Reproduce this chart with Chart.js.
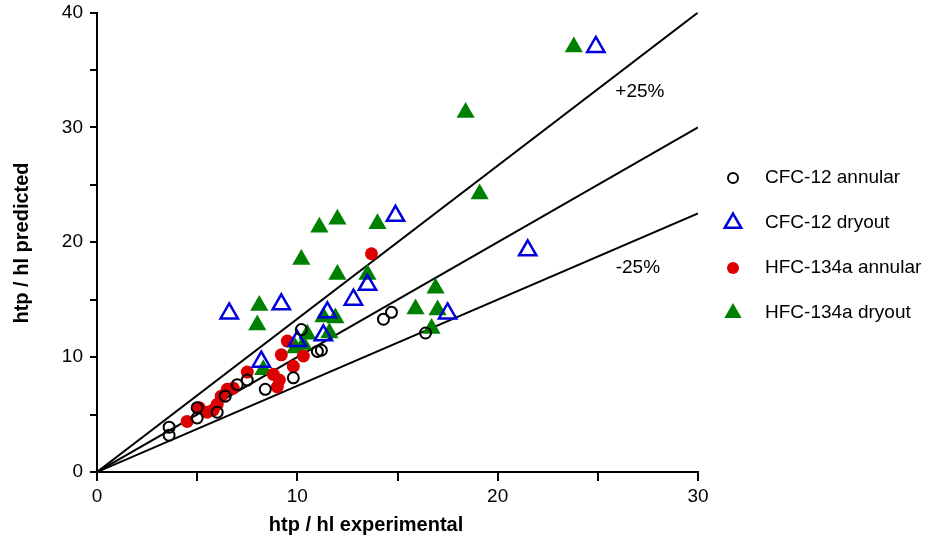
<!DOCTYPE html>
<html>
<head>
  <title>htp / hl</title>
  <script src="https://cdn.jsdelivr.net/npm/chart.js@4.4.1/dist/chart.umd.min.js"></script>
  <style>
    body { margin: 0; background: #fff; }
  </style>
</head>
<body>
  <canvas id="myChart" width="942" height="542"></canvas>

  <script>
    // [experimental, predicted]
    var cfcAnnular = [[3.6,3.9],[3.6,3.2],[5.0,4.7],[5.0,5.6],[6.0,5.2],[6.4,6.6],[7.0,7.6],[7.5,8.0],
      [8.4,7.2],[9.8,8.2],[10.2,12.4],[11.0,10.5],[11.2,10.6],[14.3,13.3],[14.7,13.9],[16.4,12.1]];
    var cfcDryout = [[24.9,37.0],[21.5,19.3],[14.9,22.3],[13.5,16.3],[12.8,15.0],[17.5,13.8],[6.6,13.8],
      [9.2,14.6],[11.5,13.9],[11.3,11.9],[10.0,11.4],[8.2,9.6]];
    var hfcAnnular = [[13.7,19.0],[9.5,11.4],[9.2,10.2],[10.3,10.1],[9.8,9.2],[7.5,8.7],[8.8,8.5],[9.1,8.0],
      [9.0,7.4],[6.8,7.3],[6.5,7.2],[6.2,6.6],[6.0,5.9],[5.8,5.4],[5.1,5.6],[5.5,5.2],[4.5,4.4]];
    var hfcDryout = [[8.3,8.9],[9.9,10.8],[10.3,11.1],[10.5,12.0],[11.6,12.1],[11.3,13.5],[11.9,13.4],
      [8.0,12.8],[8.1,14.5],[10.2,18.5],[11.1,21.3],[12.0,22.0],[14.0,21.6],[12.0,17.2],[13.5,17.2],
      [16.9,16.0],[15.9,14.2],[17.0,14.1],[16.7,12.5],[18.4,31.3],[19.1,24.2],[23.8,37.0]];
    // reference lines: predicted = factor * experimental
    var lineFactors = [4 / 3, 1, 0.75];
    var lineEndX = 30;

    function pts(arr) {
      return arr.map(function(p) { return { x: p[0], y: p[1] }; });
    }

    var green = '#008000', blue = '#0000dd', red = '#dd0000';
    var font = '"Liberation Sans", Arial, sans-serif';

    var datasets = [
      { label: 'CFC-12 annular', data: pts(cfcAnnular), pointStyle: 'circle', pointRadius: 5.5,
        borderColor: '#000', backgroundColor: 'rgba(0,0,0,0)', borderWidth: 2, order: 0 },
      { label: 'CFC-12 dryout', data: pts(cfcDryout), pointStyle: 'triangle', pointRadius: 10,
        borderColor: blue, backgroundColor: 'rgba(0,0,0,0)', borderWidth: 2.5, order: 0 },
      { label: 'HFC-134a annular', data: pts(hfcAnnular), pointStyle: 'circle', pointRadius: 6.5,
        borderColor: red, backgroundColor: red, borderWidth: 0, order: 0 },
      { label: 'HFC-134a dryout', data: pts(hfcDryout), pointStyle: 'triangle', pointRadius: 10.5,
        borderColor: green, backgroundColor: green, borderWidth: 0, order: 0 }
    ];
    lineFactors.forEach(function(f) {
      datasets.push({
        type: 'line', data: [{ x: 0, y: 0 }, { x: lineEndX, y: lineEndX * f }],
        borderColor: '#000', borderWidth: 2, pointRadius: 0, fill: false, order: 1
      });
    });

    var legendRows = [178, 223, 268, 313];
    var legendSizes = [5, 9.5, 6, 10];

    var extras = {
      id: 'extras',
      afterDatasetsDraw: function(chart) {
        var c = chart.ctx, xs = chart.scales.x, ys = chart.scales.y;
        c.save();
        c.fillStyle = '#000';
        c.font = '19px ' + font;
        c.textAlign = 'center';
        c.textBaseline = 'middle';
        c.fillText('+25%', xs.getPixelForValue(27.1), ys.getPixelForValue(33.1));
        c.fillText('-25%', xs.getPixelForValue(27.0), ys.getPixelForValue(17.8));

        // legend
        c.textAlign = 'left';
        for (var i = 0; i < 4; i++) {
          var ds = chart.data.datasets[i], y = legendRows[i];
          c.fillStyle = '#000';
          c.fillText(ds.label, 765, y);
          c.lineWidth = ds.borderWidth || 1;
          c.strokeStyle = ds.borderColor;
          c.fillStyle = ds.backgroundColor;
          Chart.helpers.drawPoint(c, { pointStyle: ds.pointStyle, radius: legendSizes[i],
            borderWidth: ds.borderWidth, rotation: 0 }, 733, y);
        }

        // axis titles
        c.fillStyle = '#000';
        c.font = 'bold 20px ' + font;
        c.textAlign = 'center';
        c.fillText('htp / hl experimental', 366, 525);
        c.translate(22, 243);
        c.rotate(-Math.PI / 2);
        c.fillText('htp / hl predicted', 0, 0);
        c.restore();
      }
    };

    var ctx = document.getElementById('myChart').getContext('2d');
    var chart = new Chart(ctx, {
      type: 'scatter',
      data: { datasets: datasets },
      options: {
        responsive: false,
        animation: false,
        layout: { padding: { top: 6, right: 244, left: 0, bottom: 0 } },
        plugins: { legend: { display: false }, tooltip: { enabled: false } },
        scales: {
          x: {
            type: 'linear', min: 0, max: 30,
            afterFit: function(s) { s.height = 70; },
            grid: { drawOnChartArea: false, color: '#000', lineWidth: 2, tickLength: 9 },
            border: { color: '#000', width: 2 },
            ticks: { stepSize: 5, color: '#000', padding: 4, font: { family: font, size: 19 },
              callback: function(v) { return v % 10 === 0 ? v : ''; } }
          },
          y: {
            type: 'linear', min: 0, max: 40,
            afterFit: function(s) { s.width = 97; s.paddingTop = 0; },
            grid: { drawOnChartArea: false, color: '#000', lineWidth: 2, tickLength: 7 },
            border: { color: '#000', width: 2 },
            ticks: { stepSize: 5, color: '#000', padding: 7, font: { family: font, size: 19 },
              callback: function(v) { return v % 10 === 0 ? v : ''; } }
          }
        }
      },
      plugins: [extras]
    });
  </script>
</body>
</html>
